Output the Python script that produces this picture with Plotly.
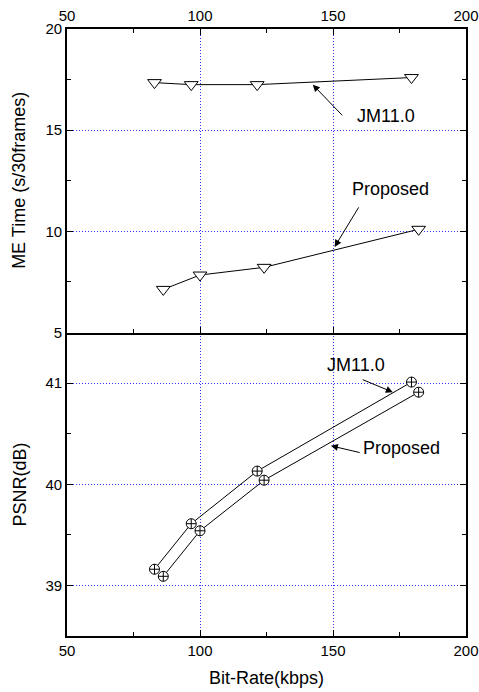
import plotly.graph_objects as go

# ---- data ----
rate_jm = [82.9, 96.7, 121.5, 179.5]
rate_prop = [86.2, 100.0, 124.1, 182.2]
time_jm = [17.35, 17.25, 17.25, 17.6]
time_prop = [7.13, 7.84, 8.22, 10.1]
psnr_jm = [39.16, 39.61, 40.13, 41.01]
psnr_prop = [39.09, 39.54, 40.04, 40.91]

x_ticks = [50, 100, 150, 200]
time_ticks = [5, 10, 15, 20]
psnr_ticks = [39, 40, 41]

FONT = "Liberation Sans, Arial, sans-serif"

fig = go.Figure()

line_style = dict(color="black", width=1)
tri = dict(symbol="triangle-down", size=12, color="white", line=dict(color="black", width=1))
cc = dict(symbol="circle-cross", size=10, color="white", line=dict(color="black", width=1))

fig.add_trace(go.Scatter(x=rate_jm, y=time_jm, xaxis="x2", yaxis="y2", mode="lines+markers",
                         line=line_style, marker=tri, showlegend=False))
fig.add_trace(go.Scatter(x=rate_prop, y=time_prop, xaxis="x2", yaxis="y2", mode="lines+markers",
                         line=line_style, marker=tri, showlegend=False))
fig.add_trace(go.Scatter(x=rate_jm, y=psnr_jm, xaxis="x", yaxis="y", mode="lines+markers",
                         line=line_style, marker=cc, showlegend=False))
fig.add_trace(go.Scatter(x=rate_prop, y=psnr_prop, xaxis="x", yaxis="y", mode="lines+markers",
                         line=line_style, marker=cc, showlegend=False))

def axis(**kw):
    d = dict(
        ticks="inside", ticklen=6, tickwidth=1.2, tickcolor="black",
        showline=True, linecolor="black", linewidth=1.6, mirror="ticks",
        showgrid=True, gridcolor="#3030ff", griddash="1px,2px", gridwidth=1,
        zeroline=False, automargin=False,
        tickfont=dict(family=FONT, size=15, color="black"),
    )
    d.update(kw)
    return d

def minor(dt, t0):
    return dict(ticks="inside", ticklen=4, dtick=dt, tick0=t0, tickcolor="black",
                tickwidth=1.2, showgrid=False)

fig.update_layout(
    template="none",
    width=479, height=692,
    margin=dict(l=67, r=13, t=29, b=56, pad=0),
    paper_bgcolor="white", plot_bgcolor="white",
    font=dict(family=FONT, color="black"),
    xaxis=axis(domain=[0, 1], anchor="y", range=[50, 200], tickvals=x_ticks,
               minor=minor(25, 50), mirror=False),
    xaxis2=axis(domain=[0, 1], anchor="y2", side="top", range=[50, 200], tickvals=x_ticks,
                minor=minor(25, 50)),
    yaxis=axis(domain=[0, 0.5], anchor="x", range=[38.5, 41.5], tickvals=psnr_ticks,
               minor=minor(0.5, 38.5)),
    yaxis2=axis(domain=[0.5, 1], anchor="x2", range=[5, 20], tickvals=time_ticks,
                minor=minor(2.5, 5)),
)

txt = dict(family=FONT, size=18, color="black")
arrow = dict(showarrow=True, arrowhead=2, arrowsize=1.4, arrowwidth=1, arrowcolor="black", standoff=0, text="")

annotations = [
    # axis titles
    dict(text="ME Time (s/30frames)", xref="paper", yref="paper", x=-0.12, y=0.75,
         textangle=-90, showarrow=False, font=txt, xanchor="center", yanchor="middle"),
    dict(text="PSNR(dB)", xref="paper", yref="paper", x=-0.117, y=0.25,
         textangle=-90, showarrow=False, font=txt, xanchor="center", yanchor="middle"),
    dict(text="Bit-Rate(kbps)", xref="paper", yref="paper", x=0.5, y=-0.069,
         showarrow=False, font=txt, xanchor="center", yanchor="middle"),
    # labels
    dict(text="JM11.0", xref="x2", yref="y2", x=170, y=15.68, showarrow=False, font=txt),
    dict(text="Proposed", xref="x2", yref="y2", x=171.5, y=12.1, showarrow=False, font=txt),
    dict(text="JM11.0", xref="x", yref="y", x=158.5, y=41.18, showarrow=False, font=txt),
    dict(text="Proposed", xref="x", yref="y", x=175.9, y=40.36, showarrow=False, font=txt),
    # arrows
    dict(xref="x2", yref="y2", axref="x2", ayref="y2", x=142.4, y=17.25, ax=154, ay=15.66, **arrow),
    dict(xref="x2", yref="y2", axref="x2", ayref="y2", x=150.6, y=9.23, ax=160, ay=11.26, **arrow),
    dict(xref="x", yref="y", axref="x", ayref="y", x=172.5, y=40.91, ax=160.6, ay=41.04, **arrow),
    dict(xref="x", yref="y", axref="x", ayref="y", x=149.2, y=40.38, ax=160.6, ay=40.31, **arrow),
]
fig.update_layout(annotations=annotations)

fig.write_html("out.html", config={"displayModeBar": False},
               post_script="document.body.style.margin='0';document.body.style.padding='0';")
